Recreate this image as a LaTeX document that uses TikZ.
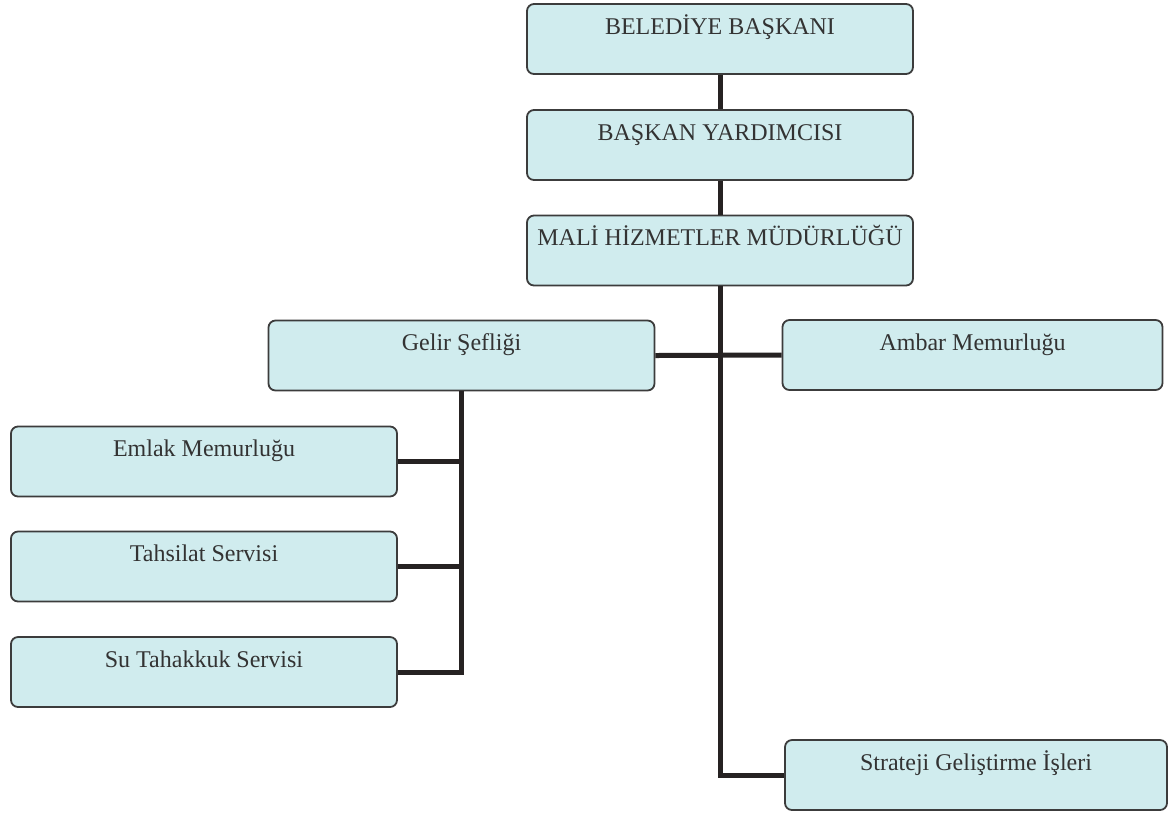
\documentclass[tikz,border=0pt]{standalone}
\usepackage{fontspec}
\setmainfont{Liberation Serif}
\definecolor{boxfill}{RGB}{208,236,238}
\definecolor{boxline}{RGB}{60,60,60}
\definecolor{linkcol}{RGB}{38,34,34}
\begin{document}
\begin{tikzpicture}[x=0.5pt,y=-0.5pt,
  unit/.style={draw=boxline, line width=0.9pt, fill=boxfill, rounded corners=3.5pt, minimum width=193pt, inner xsep=2pt, inner ysep=4pt, text height=11pt, text depth=16pt, font=\fontsize{12}{14}\selectfont, text=black!80},
  link/.style={linkcol, line width=2.5pt}]
\useasboundingbox (0,0) rectangle (1171,816);
\begin{scope}
  \node[unit] (baskan) at (720,39) {BELEDİYE BAŞKANI};\node[unit] (yardimci) at (720,145) {BAŞKAN YARDIMCISI};\node[unit] (mali) at (720,250.5) {MALİ HİZMETLER MÜDÜRLÜĞÜ};
  \node[unit] (gelir) at (461.5,355.5) {Gelir Şefliği};\node[unit, minimum width=190pt] (ambar) at (972.5,355) {Ambar Memurluğu};
  \node[unit] (emlak) at (204,461.5) {Emlak Memurluğu};\node[unit] (tahsilat) at (204,566.5) {Tahsilat Servisi};\node[unit] (su) at (204,672) {Su Tahakkuk Servisi};
  \node[unit, minimum width=191pt] (strateji) at (976,775) {Strateji Geliştirme İşleri};
\end{scope}
\begin{scope}[link]
  \draw (baskan) -- (yardimci);\draw (yardimci) -- (mali);\draw (mali.south) |- (strateji.west);\draw (gelir.east) -- (ambar.west);
  \draw (gelir.south) |- (su.east);\draw (emlak.east) -| (gelir.south);\draw (tahsilat.east) -| (gelir.south);
\end{scope}
\end{tikzpicture}
\end{document}
